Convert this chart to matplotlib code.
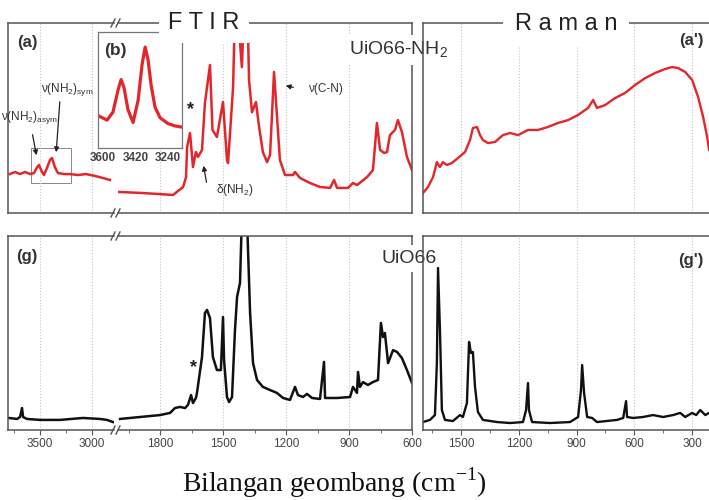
import matplotlib
matplotlib.use('Agg')
import matplotlib.pyplot as plt
from matplotlib.patches import Rectangle, FancyArrowPatch
from matplotlib.lines import Line2D

# ---- data (wavenumber, relative intensity 0-100) ----
# FTIR UiO66-NH2, high wavenumber segment
ftir_a_hi_w = [3790, 3740, 3692, 3644, 3596, 3558, 3529, 3510, 3481, 3462, 3433,
               3404, 3385, 3356, 3327, 3269, 3212, 3135, 3058, 2971, 2894, 2827]
ftir_a_hi_i = [20.5, 21.6, 20.5, 21.6, 20.5, 21, 24, 25.3, 21.6, 20, 23.7,
               27.9, 29, 24, 21, 20.5, 20.5, 20, 20.5, 19.5, 18.4, 17.4]
# FTIR UiO66-NH2, fingerprint segment
ftir_a_lo_w = [2000, 1881, 1738, 1714, 1690, 1676, 1671, 1657, 1643, 1629,
               1619, 1600, 1586, 1562, 1550, 1529, 1500, 1481, 1476, 1452,
               1440, 1410, 1395, 1384, 1376, 1362, 1343, 1329, 1310, 1290,
               1276, 1257, 1229, 1205, 1167, 1157, 1133, 1086, 1038, 990,
               971, 957, 905, 881, 862, 814, 786, 767, 752, 733,
               719, 705, 681, 667, 648, 624, 600]
ftir_a_lo_i = [11.1, 10.5, 9.5, 11.6, 13.7, 18.9, 34.7, 42.1, 24.2, 32.1,
               29.5, 33.2, 57.9, 77.9, 43.7, 40, 58.4, 27.9, 26.3, 66.3,
               120, 76.8, 120, 110, 70, 53, 58.4, 46, 32, 26.8,
               30.5, 74.2, 27.9, 20, 20, 21.6, 18.4, 15.8, 13.7, 13.2,
               17.4, 13.2, 13.2, 15.8, 14.7, 18.9, 22.6, 47.4, 33.2, 31.6,
               32.1, 41, 43.7, 48.9, 42.6, 29.5, 22.6]
# inset (b): NH2 stretching region
inset_w = [3628, 3578, 3545, 3517, 3500, 3484, 3462, 3434, 3406, 3384, 3367,
           3351, 3334, 3312, 3284, 3240, 3201, 3163]
inset_i = [28, 24, 31, 50, 59, 52, 33, 22, 41, 72, 87, 76, 54, 35, 26, 21, 19, 18]
inset_ticks = [3600, 3420, 3240]
zoom_box = (3587, 3202, 15.8, 34.2)

# Raman UiO66-NH2
raman_a_w = [1697, 1671, 1645, 1625, 1609, 1594, 1573, 1547, 1516, 1479,
             1453, 1438, 1417, 1401, 1386, 1360, 1323, 1282, 1245, 1204,
             1152, 1100, 1048, 996, 944, 892, 840, 814, 794, 752,
             700, 648, 596, 544, 492, 440, 404, 373, 336, 300,
             269, 243, 222, 212]
raman_a_i = [10.5, 13.7, 18.9, 26.8, 24.2, 26.8, 25.3, 26.3, 28.9, 32.1,
             38.4, 44.7, 45.3, 41, 38.4, 36.8, 37.4, 41, 42.1, 41,
             43.7, 43.7, 45.3, 47.4, 48.9, 51.6, 55.3, 59.5, 55.3, 56.8,
             60.5, 63.2, 67.4, 71, 73.7, 75.8, 76.8, 76.3, 74.2, 70,
             61, 50.5, 40, 33.2]

# FTIR UiO66
ftir_g_hi_w = [3800, 3721, 3692, 3673, 3663, 3625, 3500, 3308, 3087, 2923, 2856, 2798]
ftir_g_hi_i = [6.2, 5.7, 6.7, 11.3, 6.7, 5.7, 5.2, 5.2, 6.2, 5.7, 5.2, 4.1]
ftir_g_lo_w = [1990, 1895, 1800, 1752, 1729, 1705, 1681, 1667, 1652, 1643,
               1629, 1624, 1600, 1586, 1576, 1562, 1548, 1529, 1510, 1500,
               1495, 1481, 1471, 1457, 1443, 1433, 1419, 1410, 1386, 1371,
               1357, 1338, 1310, 1276, 1243, 1214, 1181, 1157, 1143, 1119,
               1100, 1076, 1038, 1019, 1014, 957, 895, 881, 862, 857,
               848, 833, 810, 786, 762, 748, 738, 729, 714, 690,
               671, 648, 624, 600]
ftir_g_lo_i = [5.7, 6.7, 7.7, 8.8, 11.3, 11.9, 11.3, 12.9, 18, 13.9,
               16.5, 19.1, 37.6, 60.3, 61.9, 57.7, 37.6, 30.9, 30.9, 58.2,
               36.1, 17, 14.4, 17, 51.5, 68.6, 75.8, 110, 110, 60.3,
               34.5, 25.8, 22.2, 20.6, 19.1, 16.5, 15.5, 22.2, 18, 17,
               18.6, 16.5, 16, 35.1, 16.5, 16.5, 17, 22.2, 19.1, 29.9,
               22.2, 24.7, 23.2, 24.7, 25.8, 55.2, 47.9, 50, 34.5, 41.2,
               40.2, 37.1, 30.9, 24.2]

# Raman UiO66
raman_g_w = [1697, 1661, 1635, 1625, 1619, 1609, 1599, 1583, 1542, 1505,
             1490, 1469, 1458, 1448, 1438, 1427, 1412, 1386, 1313, 1245,
             1178, 1162, 1152, 1147, 1131, 1038, 934, 892, 877, 871,
             861, 845, 819, 794, 690, 658, 643, 638, 606, 555,
             503, 451, 399, 362, 336, 300, 279, 258, 232, 212]
raman_g_i = [4.1, 5.2, 7.7, 34.5, 83.5, 51.5, 10.3, 5.2, 4.6, 7.7,
             6.7, 13.9, 45.4, 39.7, 40.2, 22.2, 9.3, 5.2, 4.1, 3.6,
             4.1, 10.3, 24.2, 10.3, 4.1, 3.6, 4.1, 6.7, 20.6, 33.5,
             19.1, 6.7, 6.2, 4.1, 5.2, 6.2, 14.9, 6.7, 6.2, 6.7,
             7.7, 6.7, 7.7, 8.8, 6.7, 8.8, 7.7, 10.3, 7.7, 8.8]

hi_ticks, hi_minor = [3500, 3000], [3750, 3250]
lo_ticks, lo_minor = [1800, 1500, 1200, 900, 600], [1950, 1650, 1350, 1050, 750]
ram_ticks, ram_minor = [1500, 1200, 900, 600, 300], [1650, 1350, 1050, 750, 450]

RED = '#e3262b'
BLACK = '#111111'
GREY = '#555555'

W, H = 709, 500
plt.rcParams['font.family'] = ['Liberation Sans', 'DejaVu Sans']
fig = plt.figure(figsize=(W / 100, H / 100), dpi=100)


def box(x0, y0, x1, y1, **kw):
    # axes placed in picture pixels (y down)
    return fig.add_axes([x0 / W, 1 - y1 / H, (x1 - x0) / W, (y1 - y0) / H], **kw)


def fp(x, y):
    return (x / W, 1 - y / H)


def style(ax, major, minor, labels):
    for s in ax.spines.values():
        s.set_color(GREY)
        s.set_linewidth(1.1)
    ax.set_yticks([])
    ax.set_xticks(major)
    ax.set_xticks(minor, minor=True)
    ax.set_ylim(0, 100)
    ax.grid(axis='x', which='major', ls=':', color='#c4c4c4', lw=0.8)
    ax.tick_params(axis='x', which='both', direction='out', color=GREY,
                   labelsize=8.5, labelcolor='#444444', pad=2)
    ax.tick_params(axis='x', which='major', length=3.5)
    ax.tick_params(axis='x', which='minor', length=2)
    if not labels:
        ax.tick_params(axis='x', which='both', bottom=False, labelbottom=False)


def brk(x, y):
    for dx in (-3, 2):
        fig.add_artist(Line2D([(x + dx - 2) / W, (x + dx + 2) / W],
                              [1 - (y + 4) / H, 1 - (y - 4) / H],
                              color=GREY, lw=1.0, zorder=6))


def arrow(p0, p1):
    fig.add_artist(FancyArrowPatch(fp(*p0), fp(*p1), transform=fig.transFigure,
                                   arrowstyle='-|>', mutation_scale=7,
                                   lw=0.9, color='#222222', zorder=6))


rows = [(23, 213, ftir_a_hi_w, ftir_a_hi_i, ftir_a_lo_w, ftir_a_lo_i,
         raman_a_w, raman_a_i, RED, False),
        (236, 430, ftir_g_hi_w, ftir_g_hi_i, ftir_g_lo_w, ftir_g_lo_i,
         raman_g_w, raman_g_i, BLACK, True)]

axes = []
for (yt, yb, hw, hi, lw_, li, rw, ri, col, labels) in rows:
    a1 = box(8, yt, 114, yb, zorder=1)
    a1.plot(hw, hi, color=col, lw=1.8)
    a1.set_xlim(3808, 2788)
    style(a1, hi_ticks, hi_minor, labels)
    a1.spines['right'].set_visible(False)

    a2 = box(118, yt, 412, yb, zorder=1)
    line, = a2.plot(lw_, li, color=col, lw=1.8)
    a2.set_xlim(2000, 600)
    style(a2, lo_ticks, lo_minor, labels)
    a2.spines['left'].set_visible(False)

    a3 = box(423, yt, 712, yb, zorder=3)
    a3.set_facecolor('none')
    a3.plot(rw, ri, color=col, lw=1.7)
    a3.set_xlim(1697, 197)
    style(a3, ram_ticks, ram_minor, labels)
    a3.spines['right'].set_visible(False)
    axes.append((a1, a2, a3, line))

    brk(116, yt)
    brk(116, yb)

# top FTIR peaks are cut a little below the frame
ax_top = axes[0][1]
axes[0][3].set_clip_path(Rectangle((600, 0), 1400, 90, transform=ax_top.transData))

# zoom box on the NH2 region
axz = axes[0][0]
axz.add_patch(Rectangle((zoom_box[0], zoom_box[2]), zoom_box[1] - zoom_box[0],
                        zoom_box[3] - zoom_box[2], fill=False, ec='#888888', lw=0.7))

# inset (b)
ins = box(98, 32, 182, 148, zorder=4)
ins.plot(inset_w, inset_i, color=RED, lw=2.3)
ins.set_xlim(3628, 3163)
ins.set_ylim(0, 100)
ins.set_yticks([])
ins.set_xticks(inset_ticks)
ins.tick_params(axis='x', length=0, labelsize=8.5, labelcolor='#444444', pad=3)
for t in ins.get_xticklabels():
    t.set_fontweight('bold')
for s in ins.spines.values():
    s.set_color('#777777')
    s.set_linewidth(0.9)

# titles breaking the frame
fig.text(*fp(204, 29), 'F T I R', fontsize=17, ha='center', va='baseline',
         color='#222222', zorder=7,
         bbox=dict(boxstyle='square,pad=0.4', fc='white', ec='none'))
fig.text(*fp(566, 30), 'R a m a n', fontsize=17, ha='center', va='baseline',
         color='#222222', zorder=7,
         bbox=dict(boxstyle='square,pad=0.5', fc='white', ec='none'))

fig.text(*fp(398, 55), r'UiO66-NH$_{\mathregular{2}}$', fontsize=14, ha='center',
         va='baseline', color='#333333', zorder=2,
         bbox=dict(boxstyle='square,pad=0.25', fc='white', ec='none'))
fig.text(*fp(409, 263), 'UiO66', fontsize=14, ha='center', va='baseline',
         color='#333333', zorder=2,
         bbox=dict(boxstyle='square,pad=0.25', fc='white', ec='none'))

# panel letters
for (x, y, s) in [(27, 43, '(a)'), (115, 50, '(b)'), (691, 40, "(a')"),
                  (27, 256, '(g)'), (691, 260, "(g')")]:
    fig.text(*fp(x, y), s, fontsize=12 if s != '(b)' else 12.5,
             fontweight='bold', ha='center', va='center', color='#333333', zorder=7)

# band assignments
fig.text(*fp(1, 118), r'ν(NH$_{\mathregular{2}}$)$_{\mathregular{asym}}$', fontsize=8.5,
         ha='left', va='center', color='#333333', zorder=7)
fig.text(*fp(67, 90), r'ν(NH$_{\mathregular{2}}$)$_{\mathregular{sym}}$', fontsize=8.5,
         ha='center', va='center', color='#333333', zorder=7)
fig.text(*fp(235, 190), r'δ(NH$_{\mathregular{2}}$)', fontsize=8.5,
         ha='center', va='center', color='#333333', zorder=7)
fig.text(*fp(325, 89), 'ν(C-N)', fontsize=8.5,
         ha='center', va='center', color='#333333', zorder=7)
arrow((32, 132), (37, 158))
arrow((60, 99), (56, 155))
arrow((207, 185), (203, 163))
arrow((296, 88), (283, 85))

fig.text(*fp(190, 110), '*', fontsize=13, fontweight='bold', ha='center',
         va='center', color='#222222', zorder=7)
fig.text(*fp(193, 368), '*', fontsize=13, fontweight='bold', ha='center',
         va='center', color='#222222', zorder=7)

fig.text(*fp(334, 492), r'Bilangan geombang (cm$^{\mathregular{-1}}$)', fontsize=20,
         family='Liberation Serif', ha='center', va='baseline', color='#111111')

fig.savefig('out.png', dpi=100)
